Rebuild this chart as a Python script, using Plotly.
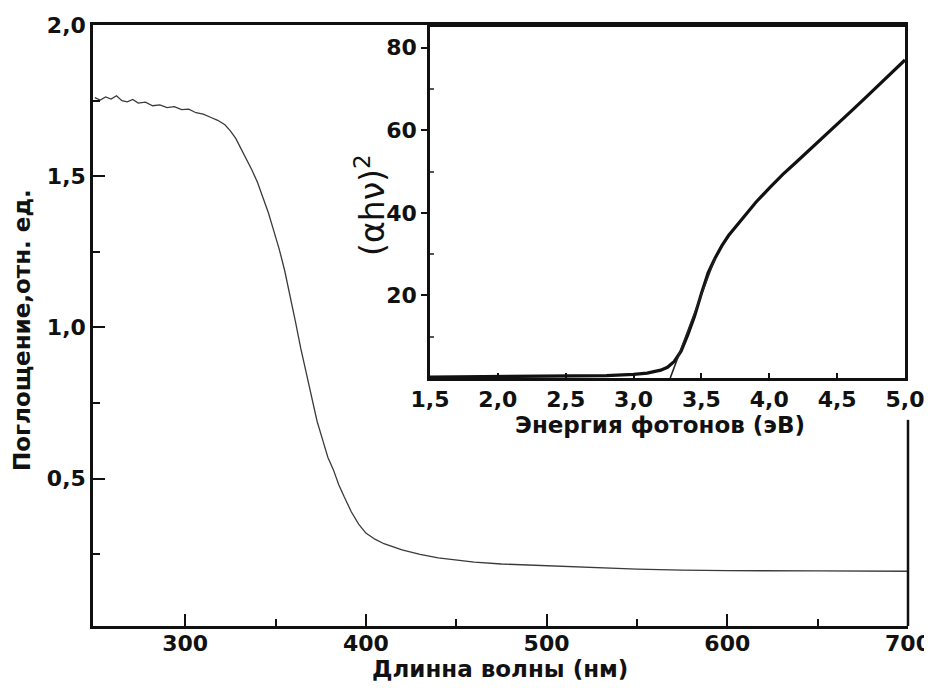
import plotly.graph_objects as go

# Main spectrum: wavelength (nm) vs absorbance (rel. units)
wavelength = [250, 253, 256, 259, 262, 265, 268, 271, 274, 278, 282, 286, 290, 294, 298,
              302, 306, 310, 314, 318, 322, 325, 328, 331, 334, 337, 340, 343, 346, 349,
              352, 355, 358, 361, 364, 367, 370, 373, 376, 379, 382, 385, 388, 392, 396,
              400, 405, 410, 420, 430, 440, 450, 460, 475, 500, 525, 550, 575, 600, 650, 700]
absorbance = [1.76, 1.752, 1.762, 1.755, 1.766, 1.75, 1.746, 1.754, 1.742, 1.745, 1.733, 1.736, 1.727, 1.73, 1.72,
              1.722, 1.71, 1.705, 1.695, 1.685, 1.67, 1.65, 1.625, 1.59, 1.56, 1.52, 1.48, 1.43, 1.38, 1.32,
              1.26, 1.19, 1.11, 1.02, 0.93, 0.85, 0.76, 0.69, 0.63, 0.57, 0.53, 0.48, 0.44, 0.39, 0.35,
              0.32, 0.30, 0.285, 0.265, 0.25, 0.238, 0.23, 0.224, 0.218, 0.212, 0.206, 0.201, 0.198, 0.196, 0.195, 0.194]

# Inset: Tauc plot
energy = [1.5, 2.0, 2.5, 2.8, 3.0, 3.1, 3.2, 3.25, 3.3, 3.35, 3.4, 3.45, 3.5, 3.55, 3.6, 3.65, 3.7,
          3.8, 3.9, 4.0, 4.1, 4.2, 4.3, 4.4, 4.5, 4.6, 4.7, 4.8, 4.9, 5.0]
tauc = [0.2, 0.3, 0.4, 0.6, 0.9, 1.2, 1.9, 2.6, 4.0, 6.5, 10.5, 15.0, 20.5, 25.5, 29.0, 32.0, 34.5,
        38.5, 42.5, 46.0, 49.3, 52.3, 55.3, 58.3, 61.4, 64.5, 67.6, 70.7, 73.7, 77.0]
fit_energy = [3.27, 3.6]
fit_tauc = [0.0, 29.0]

main_xticks = [300, 400, 500, 600, 700]
main_xminor = [350, 450, 550, 650]
main_yticks = [0.5, 1.0, 1.5, 2.0]
main_ytext = ["0,5", "1,0", "1,5", "2,0"]
main_yminor = [0.25, 0.75, 1.25, 1.75]
inset_xticks = [1.5, 2.0, 2.5, 3.0, 3.5, 4.0, 4.5, 5.0]
inset_xtext = ["1,5", "2,0", "2,5", "3,0", "3,5", "4,0", "4,5", "5,0"]
inset_yticks = [20, 40, 60, 80]
inset_yminor = [10, 30, 50, 70]

FONT = "DejaVu Sans"
TICKFONT = dict(family=FONT, size=22, color="#111111", weight="bold")
TITLEFONT = dict(family=FONT, size=23, color="#111111", weight="bold")

fig = go.Figure()
fig.add_trace(go.Scatter(x=wavelength, y=absorbance, mode="lines",
                         line=dict(color="#3a3a3a", width=1.3), xaxis="x", yaxis="y",
                         showlegend=False))
fig.add_trace(go.Scatter(x=energy, y=tauc, mode="lines",
                         line=dict(color="#111111", width=3.2), xaxis="x2", yaxis="y2",
                         showlegend=False))
fig.add_trace(go.Scatter(x=fit_energy, y=fit_tauc, mode="lines",
                         line=dict(color="#222222", width=1.6), xaxis="x2", yaxis="y2",
                         showlegend=False))

# the page body adds an 8px offset; the figure is sized to fill the 932x688 window
fig.update_layout(
    width=924, height=680,
    template="none",
    margin=dict(l=85, r=24, t=17, b=62, autoexpand=False),
    paper_bgcolor="white", plot_bgcolor="white",
    xaxis=dict(domain=[0, 1], range=[249, 700], anchor="y", automargin=False,
               showgrid=False, zeroline=False, showline=True, linecolor="#111111", linewidth=2.5,
               mirror=True,
               tickmode="array", tickvals=main_xticks, ticktext=[str(v) for v in main_xticks],
               ticks="inside", ticklen=12, tickwidth=2, tickcolor="#111111",
               ticklabelstandoff=-4,
               minor=dict(tickmode="array", tickvals=main_xminor, ticks="inside", ticklen=7,
                          tickwidth=2, tickcolor="#111111"),
               tickfont=TICKFONT),
    yaxis=dict(domain=[0, 1], range=[0.013, 2.0], anchor="x", automargin=False,
               showgrid=False, zeroline=False, showline=True, linecolor="#111111", linewidth=2.5,
               tickmode="array", tickvals=main_yticks, ticktext=main_ytext,
               ticks="inside", ticklen=12, tickwidth=2, tickcolor="#111111",
               minor=dict(tickmode="array", tickvals=main_yminor, ticks="inside", ticklen=7,
                          tickwidth=2, tickcolor="#111111"),
               tickfont=TICKFONT),
    xaxis2=dict(domain=[0.4135, 0.9963], range=[1.5, 5.0], anchor="y2", automargin=False,
                showgrid=False, zeroline=False, showline=True, linecolor="#111111", linewidth=2.5,
                mirror=True,
                tickmode="array", tickvals=inset_xticks, ticktext=inset_xtext,
                ticks="inside", ticklen=5, tickwidth=1.5, tickcolor="#111111",
                tickfont=TICKFONT),
    yaxis2=dict(domain=[0.4126, 0.9967], range=[0, 85], anchor="x2", automargin=False,
                showgrid=False, zeroline=False, showline=True, linecolor="#111111", linewidth=2.5,
                mirror=True,
                tickmode="array", tickvals=inset_yticks, ticktext=[str(v) for v in inset_yticks],
                ticks="outside", ticklen=6, tickwidth=1.5, tickcolor="#111111",
                minor=dict(tickmode="array", tickvals=inset_yminor, ticks="inside", ticklen=4,
                           tickwidth=1.5, tickcolor="#555555"),
                tickfont=TICKFONT),
    shapes=[dict(type="line", xref="paper", yref="paper", x0=1, x1=1, y0=0, y1=0.343,
                 line=dict(color="#111111", width=2.5))],
    annotations=[
        dict(text="Длинна волны (нм)", xref="paper", yref="paper", x=0.4994, y=-0.0715,
             xanchor="center", yanchor="middle", showarrow=False, font=TITLEFONT),
        dict(text="Поглощение,отн. ед.", xref="paper", yref="paper", x=-0.0871, y=0.4925,
             xanchor="center", yanchor="middle", textangle=-90, showarrow=False, font=TITLEFONT),
        dict(text="Энергия фотонов (эВ)", xref="paper", yref="paper", x=0.6957, y=0.3344,
             xanchor="center", yanchor="middle", showarrow=False, font=TITLEFONT),
        dict(text="(αhν)<sup>2</sup>", xref="paper", yref="paper", x=0.3410, y=0.7005,
             xanchor="center", yanchor="middle", textangle=-90, showarrow=False,
             font=dict(family=FONT, size=33, color="#111111")),
    ],
)

fig.write_html("out.html")
